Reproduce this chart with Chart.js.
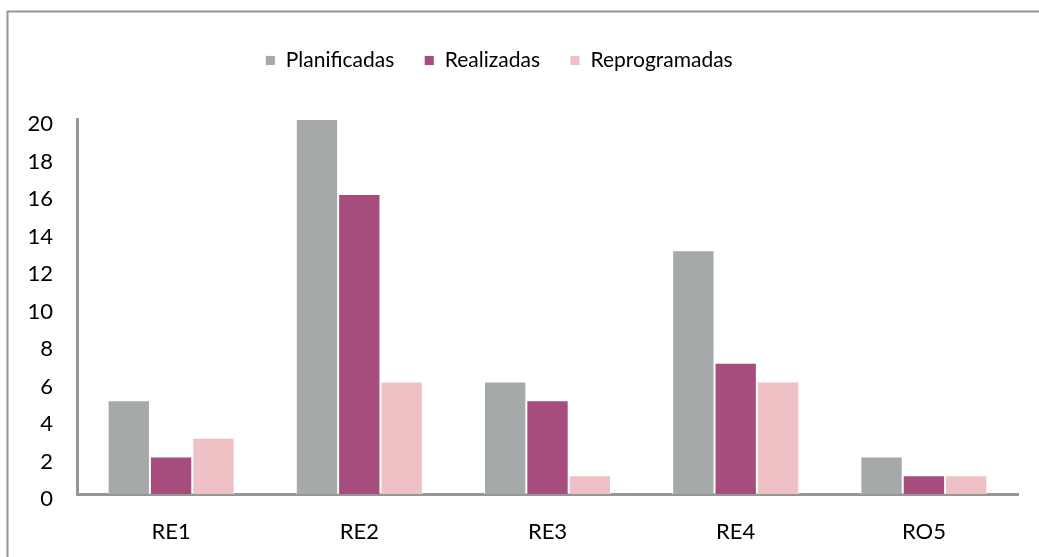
<!DOCTYPE html>
<html lang="es">
<head>
  <meta charset="UTF-8">
  <title>Actividades</title>
  <script src="https://cdn.jsdelivr.net/npm/chart.js@4"></script>
  <style>
    html, body {
      margin: 0;
      padding: 0;
      background: #fff;
      overflow: hidden;
    }
    .wrap {
      position: absolute;
      left: 0;
      top: 0;
      width: 1039px;
      height: 557px;
    }
  </style>
</head>
<body>
  <div class="wrap">
    <canvas id="grafico"></canvas>
  </div>

  <script>
  // datos
  const categorias = ['RE1', 'RE2', 'RE3', 'RE4', 'RO5'];
  const planificadas = [5, 20, 6, 13, 2];
  const realizadas = [2, 16, 5, 7, 1];
  const reprogramadas = [3, 6, 1, 6, 1];

  const fuente = "Lato, 'Open Sans', sans-serif";

  // marco gris alrededor del grafico + hueco bajo la leyenda
  const marco = {
    id: 'marco',
    beforeUpdate(chart) {
      const lg = chart.legend;
      if (lg && !lg._parcheado) {
        const fitOrig = lg.fit;
        lg.fit = function () {
          fitOrig.call(this);
          this.height += 38;
        };
        lg._parcheado = true;
      }
    },
    beforeDraw(chart) {
      const ctx = chart.ctx;
      ctx.save();
      ctx.strokeStyle = '#969696';
      ctx.lineWidth = 2;
      ctx.strokeRect(7.5, 11.5, 1100, 700);
      ctx.restore();
    }
  };

  new Chart(document.getElementById('grafico'), {
    type: 'bar',
    data: {
      labels: categorias,
      datasets: [
        {
          label: 'Planificadas',
          data: planificadas,
          backgroundColor: '#a6a9a9',
          borderColor: 'rgba(255,255,255,0.85)',
          borderWidth: 1
        },
        {
          label: 'Realizadas',
          data: realizadas,
          backgroundColor: '#a64d7e',
          borderColor: 'rgba(255,255,255,0.85)',
          borderWidth: 1
        },
        {
          label: 'Reprogramadas',
          data: reprogramadas,
          backgroundColor: '#f0c1c4',
          borderColor: 'rgba(255,255,255,0.85)',
          borderWidth: 1
        }
      ]
    },
    options: {
      responsive: true,
      maintainAspectRatio: false,
      animation: false,
      categoryPercentage: 0.675,
      barPercentage: 1,
      layout: {
        padding: { left: -20, right: 21, top: 20, bottom: 0 }
      },
      plugins: {
        legend: {
          position: 'top',
          labels: {
            boxWidth: 10,
            boxHeight: 10,
            padding: 30,
            color: '#000',
            font: { family: fuente, size: 21 }
          }
        },
        tooltip: { enabled: false }
      },
      scales: {
        x: {
          grid: { display: false, drawTicks: false },
          border: { display: true, color: '#969696', width: 3 },
          ticks: {
            color: '#000',
            padding: 25,
            font: { family: fuente, size: 22 }
          },
          afterFit(scale) { scale.height = 63; }
        },
        y: {
          min: 0,
          max: 20,
          grid: { display: false, drawTicks: false },
          border: { display: true, color: '#969696', width: 3 },
          ticks: {
            stepSize: 2,
            color: '#000',
            padding: 24,
            labelOffset: 5,
            font: { family: fuente, size: 22 }
          },
          afterFit(scale) { scale.width = 97; }
        }
      }
    },
    plugins: [marco]
  });
  </script>
</body>
</html>
